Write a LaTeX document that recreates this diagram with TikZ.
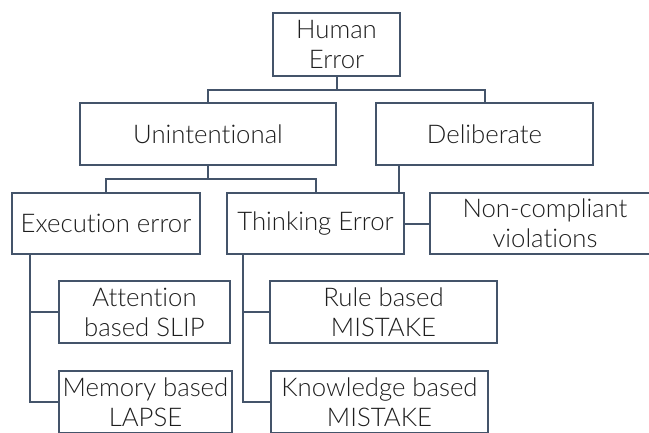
\documentclass[tikz,border=0pt]{standalone}
\usepackage{fontspec}
\setmainfont{Lato}[UprightFont=* Light,Ligatures=CommonOff]
\usetikzlibrary{calc}
\definecolor{frame}{HTML}{44546A}
\definecolor{ink}{HTML}{1E1E1E}
\begin{document}
\begin{tikzpicture}[x=0.75pt,y=-0.75pt,
  box/.style={draw=frame,line width=1.5pt,fill=white,rectangle,inner sep=0pt,
    align=center,text=ink,font=\fontsize{19.3pt}{22.5pt}\selectfont},
  link/.style={draw=frame,line width=1.5pt}]
\useasboundingbox (0,0) rectangle (649,432);
\clip (0,0) rectangle (649,432);

% boxes
\node[box,minimum width=127*0.75pt,minimum height=63*0.75pt] (human) at (336.5,44.5) {Human\\Error};
\node[box,minimum width=256*0.75pt,minimum height=62*0.75pt] (unint) at (208,134) {Unintentional};
\node[box,minimum width=217*0.75pt,minimum height=62*0.75pt] (delib) at (484.5,134) {Deliberate};
\node[box,minimum width=188*0.75pt,minimum height=61*0.75pt] (exec) at (106,223.5) {Execution error};
\node[box,minimum width=177*0.75pt,minimum height=61*0.75pt] (think) at (315.5,223.5) {Thinking Error};
\node[box,minimum width=230*0.75pt,minimum height=61*0.75pt] (noncomp) at (545,223.5) {Non-compliant\\violations};
\node[box,minimum width=171*0.75pt,minimum height=62*0.75pt] (attn) at (144.5,312) {Attention\\based SLIP};
\node[box,minimum width=173*0.75pt,minimum height=62*0.75pt] (memory) at (145.5,402) {Memory based\\LAPSE};
\node[box,minimum width=227*0.75pt,minimum height=62*0.75pt] (rule) at (383.5,312) {Rule based\\MISTAKE};
\node[box,minimum width=217*0.75pt,minimum height=62*0.75pt] (know) at (379.5,402) {Knowledge based\\MISTAKE};

% connectors
\draw[link] (human.south) -- ++(0,13) coordinate (hbus) -| (unint.north);
\draw[link] (hbus) -| (delib.north);
\draw[link] (unint.south) -- ++(0,13) coordinate (ubus) -| (exec.north);
\draw[link] (ubus) -| (think.north);
\draw[link] ($(think.north east)+(-6,0)$) -- ($(think.north east |- delib.south)+(-6,0)$);
\draw[link] (think.east) -- (noncomp.west);
\draw[link] ($(exec.south west)+(19,0)$) |- (attn.west);
\draw[link] ($(exec.south west)+(19,0)$) |- (memory.west);
\draw[link] ($(think.south west)+(17,0)$) |- (rule.west);
\draw[link] ($(think.south west)+(17,0)$) |- (know.west);
\end{tikzpicture}
\end{document}
